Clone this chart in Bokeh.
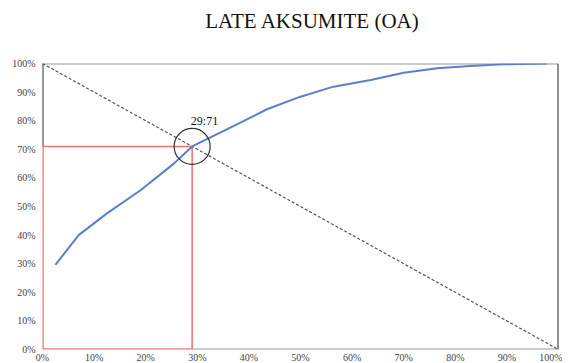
from bokeh.plotting import figure
from bokeh.models import Range1d, FixedTicker, Label, Div
from bokeh.layouts import column
from bokeh.embed import file_html
from bokeh.resources import INLINE

# ---- data ----
tick_values = [0, 10, 20, 30, 40, 50, 60, 70, 80, 90, 100]
tick_labels = ["0%", "10%", "20%", "30%", "40%", "50%", "60%", "70%", "80%", "90%", "100%"]

curve_x = [2.5, 7.0, 12.5, 19.0, 25.4, 29.0, 37.1, 43.5, 50.0, 56.4, 63.6, 70.0, 76.5, 82.9, 89.3, 97.8]
curve_y = [29.6, 40.0, 47.6, 55.7, 64.9, 71.0, 78.2, 84.0, 88.4, 91.9, 94.2, 96.8, 98.3, 99.1, 99.7, 100.0]

diag_x = [0, 100]
diag_y = [100, 0]

cross_x = 29
cross_y = 71
cross_text = "29:71"
title_text = "LATE AKSUMITE (OA)"

SERIF = "Liberation Serif"
RED = "#f07272"

title_div = Div(text=title_text, width=562, height=24,
                styles={"font-family": SERIF, "font-size": "21px", "line-height": "21px",
                        "color": "#111111", "text-align": "center",
                        "padding-left": "52px", "padding-top": "6px",
                        "box-sizing": "border-box", "width": "562px"})

p = figure(width=562, height=331, output_backend="svg", toolbar_location=None,
           x_range=Range1d(0, 100), y_range=Range1d(0, 100),
           min_border_left=42, min_border_right=4, min_border_top=29, min_border_bottom=11)
p.outline_line_color = None
p.xgrid.visible = False
p.ygrid.visible = False

labels_map = {v: l for v, l in zip(tick_values, tick_labels)}
for ax in (p.xaxis[0], p.yaxis[0]):
    ax.ticker = FixedTicker(ticks=tick_values)
    ax.major_label_overrides = labels_map
    ax.axis_line_color = None
    ax.major_tick_line_color = None
    ax.minor_tick_line_color = None
    ax.major_tick_out = 0
    ax.major_tick_in = 0
    ax.major_label_text_font = SERIF
    ax.major_label_text_font_size = "10px"
    ax.major_label_text_color = "#444444"
p.xaxis[0].major_label_standoff = 2
p.yaxis[0].major_label_standoff = 7

# frame borders
p.line([0, 100], [100, 100], line_color="#999999", line_width=2)
p.line([100, 100], [0, 100], line_color="#222222", line_width=2)
p.line([0, 0], [cross_y, 100], line_color="#333333", line_width=2)
p.line([cross_x, 100], [0, 0], line_color="#999999", line_width=2)

# red guide rectangle
p.line([0, 0], [0, cross_y], line_color=RED, line_width=2.5)
p.line([0, cross_x], [0, 0], line_color=RED, line_width=2.5)
p.line([0, cross_x], [cross_y, cross_y], line_color=RED, line_width=1.5)
p.line([cross_x, cross_x], [0, cross_y], line_color=RED, line_width=1.5)

# diagonal
p.line(diag_x, diag_y, line_color="#555555", line_width=1.2, line_dash="3 2")

# curve
p.line(curve_x, curve_y, line_color="#5b7fcb", line_width=2)

# circle
p.scatter([cross_x], [cross_y], marker="circle", size=36, fill_alpha=0,
          line_color="#333333", line_width=1.2)

lbl = Label(x=31.4, y=80, text=cross_text, text_font=SERIF, text_font_size="12px",
            text_align="center", text_baseline="middle", text_color="#111111")
p.add_layout(lbl)

layout = column(title_div, p, spacing=0)
open("out.html", "w").write(file_html(layout, INLINE))
